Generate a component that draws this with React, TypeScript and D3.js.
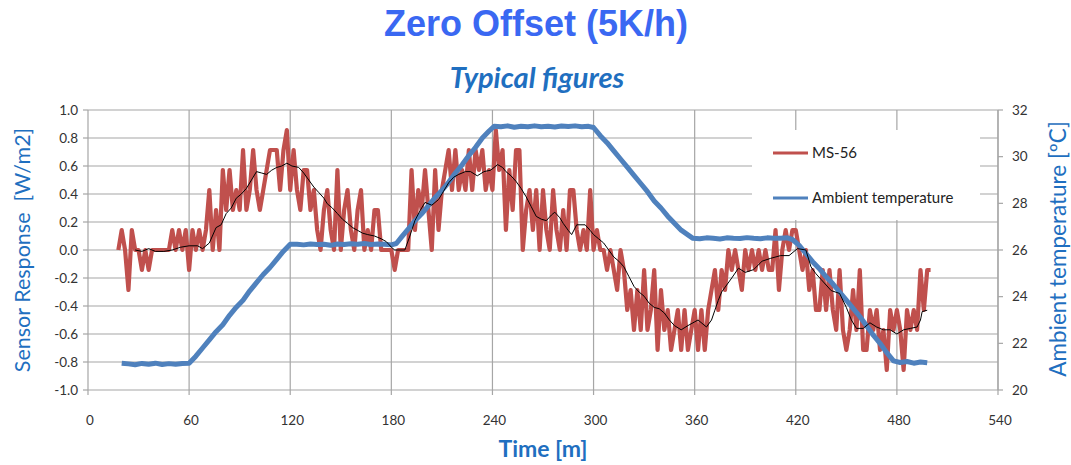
import * as d3 from 'd3'

// sensor output is quantised: one count = 1/7 W/m2
const countWm2 = 1 / 7
const ms56Minutes = d3.range(18, 501, 2)
const ms56Counts = [
  0, 1, 0, -2, 1, 0, 0, -1, 0, -1, 0, 0, 0, 0, 0, 0, 1, 0, 1, 0,
  1, -1, 1, 0, 1, 0, 1, 3, 0, 2, 0, 4, 2, 4, 2, 3, 2, 5, 2, 3,
  5, 3, 2, 3, 4, 5, 5, 5, 3, 5, 6, 3, 5, 3, 2, 4, 4, 2, 3, 1,
  0, 2, 3, 1, 0, 4, 0, 2, 3, 1, 0, 2, 3, 0, 1, 0, 2, 2, 0, 0,
  0, 0, -1, 0, 0, 0, 0, 4, 1, 3, 2, 4, 2, 0, 4, 1, 3, 4, 5, 3,
  5, 3, 4, 3, 5, 3, 5, 4, 5, 3, 4, 3, 6, 4, 5, 1, 4, 2, 5, 5,
  0, 2, 3, 1, 3, 0, 3, 1, 0, 3, 1, 0, 2, 0, 3, 3, 1, 0, 1, 0,
  3, 0, 1, 0, 0, -1, 0, -1, -2, 0, -1, -3, -2, -4, -2, -4, -1, -4, -3, -1,
  -5, -2, -4, -3, -5, -4, -3, -5, -3, -5, -4, -3, -5, -3, -5, -3, -2, -1, -3, -1,
  -2, 0, -1, 0, -1, -2, 0, -1, 0, -1, 0, -1, 0, -1, -1, 1, -2, 0, 1, 0,
  1, 1, 0, -1, 0, -2, -1, -3, -3, -1, -3, -1, -3, -4, -1, -4, -5, -4, -2, -4,
  -1, -5, -5, -3, -4, -3, -5, -4, -6, -3, -4, -3, -4, -6, -3, -4, -3, -4, -1, -3,
  -1, -1,
]

// thin black trend line over MS-56
const trendMinutes = [
  28, 32, 36, 40, 45, 50, 55, 60, 65, 68, 72, 76, 79, 82, 85, 88, 91, 94, 97, 100,
  103, 106, 109, 112, 115, 118, 121, 125, 128, 131, 134, 137, 140, 142, 145, 148, 151, 154, 157, 160,
  163, 166, 170, 174, 177, 180, 182, 188, 191, 194, 197, 200, 204, 208, 211, 214, 217, 220, 224, 227,
  231, 235, 239, 243, 246, 248, 251, 254, 257, 260, 263, 266, 269, 272, 275, 277, 280, 282, 285, 287,
  290, 295, 298, 300, 303, 306, 309, 312, 315, 318, 321, 324, 327, 330, 333, 336, 339, 342, 345, 348,
  352, 356, 359, 362, 365, 367, 370, 372, 374, 376, 379, 382, 386, 390, 395, 400, 405, 411, 416, 421,
  426, 429, 432, 435, 438, 441, 446, 450, 453, 456, 460, 464, 468, 472, 476, 480, 484, 488, 492, 494,
  495, 498,
]
const trendValues = [
  0.0, -0.01, 0.01, -0.01, -0.01, 0.0, 0.02, 0.03, 0.03, 0.01, 0.05, 0.16, 0.18, 0.26, 0.3, 0.37, 0.4, 0.44, 0.5, 0.56,
  0.55, 0.54, 0.57, 0.59, 0.6, 0.62, 0.6, 0.59, 0.55, 0.5, 0.45, 0.41, 0.37, 0.33, 0.3, 0.26, 0.22, 0.19, 0.16, 0.14,
  0.12, 0.11, 0.1, 0.08, 0.06, 0.02, 0.0, 0.0, 0.1, 0.21, 0.28, 0.34, 0.32, 0.36, 0.42, 0.48, 0.52, 0.54, 0.56, 0.56,
  0.53, 0.56, 0.57, 0.61, 0.59, 0.56, 0.53, 0.49, 0.44, 0.38, 0.31, 0.24, 0.22, 0.21, 0.25, 0.27, 0.23, 0.19, 0.14, 0.11,
  0.18, 0.18, 0.14, 0.11, 0.08, 0.05, 0.0, -0.05, -0.08, -0.12, -0.19, -0.26, -0.3, -0.33, -0.38, -0.41, -0.42, -0.45, -0.5, -0.54,
  -0.57, -0.54, -0.52, -0.5, -0.53, -0.55, -0.5, -0.43, -0.36, -0.3, -0.25, -0.2, -0.13, -0.16, -0.14, -0.08, -0.06, -0.04, -0.04, 0.01,
  0.0, -0.12, -0.17, -0.21, -0.25, -0.29, -0.31, -0.41, -0.5, -0.56, -0.56, -0.52, -0.55, -0.57, -0.57, -0.6, -0.57, -0.56, -0.55, -0.5,
  -0.44, -0.43,
]

const ambientMinutes = [
  20, 24, 28, 32, 36, 40, 44, 48, 52, 56, 60,
  64, 68, 72, 76, 80, 84, 88, 92, 96, 100, 104, 108, 112, 116, 120,
  124, 128, 132, 136, 140, 144, 148, 152, 156, 160, 164, 168, 172, 176, 180, 183,
  186, 190, 194, 198, 202, 206, 210, 214, 218, 222, 226, 230, 234, 238, 241,
  245, 249, 253, 257, 261, 265, 269, 273, 277, 281, 285, 289, 293, 297, 300,
  304, 308, 312, 316, 320, 324, 328, 332, 336, 340, 344, 348, 352, 356, 359,
  363, 367, 371, 375, 379, 383, 387, 391, 395, 399, 403, 407, 411, 415, 418,
  422, 426, 430, 434, 438, 442, 446, 450, 454, 458, 462, 466, 470, 474, 478,
  482, 486, 490, 494, 498,
]
const ambientTemps = [
  21.15, 21.12, 21.08, 21.14, 21.1, 21.15, 21.09, 21.13, 21.1, 21.14, 21.15,
  21.45, 21.8, 22.15, 22.5, 22.8, 23.2, 23.55, 23.85, 24.25, 24.6, 24.95, 25.25, 25.6, 25.95, 26.25,
  26.25, 26.22, 26.26, 26.24, 26.25, 26.2, 26.26, 26.24, 26.27, 26.25, 26.28, 26.24, 26.26, 26.25, 26.22, 26.28,
  26.55, 26.9, 27.25, 27.55, 27.9, 28.25, 28.55, 28.9, 29.3, 29.65, 30.05, 30.4, 30.8, 31.1, 31.3,
  31.28, 31.32, 31.26, 31.3, 31.28, 31.32, 31.28, 31.3, 31.27, 31.31, 31.29, 31.32, 31.28, 31.3, 31.25,
  30.9, 30.6, 30.25, 29.9, 29.55, 29.2, 28.85, 28.5, 28.1, 27.8, 27.45, 27.15, 26.85, 26.65, 26.5,
  26.48, 26.52, 26.5, 26.47, 26.52, 26.5, 26.49, 26.53, 26.5, 26.48, 26.52, 26.5, 26.5, 26.52, 26.45,
  26.2, 25.85, 25.5, 25.2, 24.85, 24.55, 24.2, 23.85, 23.5, 23.15, 22.75, 22.35, 22.0, 21.6, 21.25,
  21.18, 21.22, 21.15, 21.2, 21.17,
]

const timeTicks = [0, 60, 120, 180, 240, 300, 360, 420, 480, 540]
const sensorTickLabels = ['-1.0', '-0.8', '-0.6', '-0.4', '-0.2', '0.0', '0.2', '0.4', '0.6', '0.8', '1.0']
const tempTicks = [20, 22, 24, 26, 28, 30, 32]

const W = 1071
const H = 465
const plot = { left: 88, right: 998, top: 110, bottom: 390 }
const gridColor = '#a6a6a6'
const titleBlue = '#1f6fc0'
const tickFont = 'Lato, "Open Sans", sans-serif'

const App = () => {
  const x = d3.scaleLinear().domain([0, 540]).range([plot.left, plot.right])
  const yS = d3.scaleLinear().domain([-1, 1]).range([plot.bottom, plot.top])
  const yT = d3.scaleLinear().domain([20, 32]).range([plot.bottom, plot.top])

  const redLine = d3.line<number>().x((d, i) => x(ms56Minutes[i])).y(d => yS(d * countWm2))
  const trendLine = d3.line<number>().x((d, i) => x(trendMinutes[i])).y(d => yS(d))
  const blueLine = d3.line<number>().x((d, i) => x(ambientMinutes[i])).y(d => yT(d))

  const sensorTicks = sensorTickLabels.map(s => parseFloat(s))

  return (
    <div style={{ position: 'absolute', left: 0, top: 0 }}>
      <svg width={W} height={H} style={{ display: 'block', background: '#fff' }}>
        <text x={536} y={36} textAnchor="middle" fontFamily='"Liberation Sans", Arial, sans-serif'
          fontWeight="bold" fontSize={36} fill="#3a68f2">Zero Offset (5K/h)</text>
        <text x={537} y={88} textAnchor="middle" fontFamily={tickFont} fontWeight="bold"
          fontStyle="italic" fontSize={29} fill={titleBlue}>Typical figures</text>

        {/* grid */}
        {sensorTicks.map(v => (
          <line key={`h${v}`} x1={plot.left} x2={plot.right} y1={yS(v)} y2={yS(v)} stroke={gridColor} strokeWidth={1.2} />
        ))}
        {timeTicks.map(t => (
          <line key={`v${t}`} x1={x(t)} x2={x(t)} y1={plot.top} y2={plot.bottom + 5} stroke={gridColor} strokeWidth={1.2} />
        ))}
        {sensorTicks.map(v => (
          <line key={`lt${v}`} x1={plot.left - 5} x2={plot.left} y1={yS(v)} y2={yS(v)} stroke={gridColor} strokeWidth={1.2} />
        ))}
        <line x1={plot.right} x2={plot.right} y1={plot.top} y2={plot.bottom} stroke={gridColor} strokeWidth={1.2} />
        {tempTicks.map(v => (
          <line key={`rt${v}`} x1={plot.right} x2={plot.right + 5} y1={yT(v)} y2={yT(v)} stroke={gridColor} strokeWidth={1.2} />
        ))}

        {/* legend background hides the grid */}
        <rect x={752} y={130} width={228} height={90} fill="#fff" />

        <path d={redLine(ms56Counts) ?? ''} fill="none" stroke="#c0504d" strokeWidth={4.2} strokeLinejoin="round" />
        <path d={blueLine(ambientTemps) ?? ''} fill="none" stroke="#4f81bd" strokeWidth={5} strokeLinejoin="round" />
        <path d={trendLine(trendValues) ?? ''} fill="none" stroke="#000" strokeWidth={1} />

        {/* tick labels */}
        {sensorTickLabels.map(s => (
          <text key={`ls${s}`} x={plot.left - 10} y={yS(parseFloat(s))} dy="0.35em" textAnchor="end"
            fontFamily={tickFont} fontSize={13.5} fill="#333">{s}</text>
        ))}
        {tempTicks.map(v => (
          <text key={`rs${v}`} x={plot.right + 14} y={yT(v)} dy="0.35em" textAnchor="start"
            fontFamily={tickFont} fontSize={13.5} fill="#333">{v}</text>
        ))}
        {timeTicks.map(t => (
          <text key={`xs${t}`} x={x(t) + 2} y={425} textAnchor="middle"
            fontFamily={tickFont} fontSize={13.5} fill="#333">{t}</text>
        ))}

        {/* axis titles */}
        <text x={543} y={457} textAnchor="middle" fontFamily={tickFont} fontWeight="bold" fontSize={23} fill={titleBlue}>Time [m]</text>
        <text transform="translate(30,250) rotate(-90)" textAnchor="middle" fontFamily={tickFont} fontSize={21.5}
          fill={titleBlue} style={{ whiteSpace: 'pre' }}>Sensor Response  [W/m2]</text>
        <text transform="translate(1066,249) rotate(-90)" textAnchor="middle" fontFamily={tickFont} fontSize={22.5}
          fill={titleBlue}>Ambient temperature [ºC]</text>

        {/* legend */}
        <line x1={773} x2={808} y1={153} y2={153} stroke="#c0504d" strokeWidth={3} />
        <text x={812} y={153} dy="0.35em" fontFamily={tickFont} fontSize={15} fill="#222">MS-56</text>
        <line x1={773} x2={808} y1={198} y2={198} stroke="#4f81bd" strokeWidth={3} />
        <text x={812} y={198} dy="0.35em" fontFamily={tickFont} fontSize={15} fill="#222">Ambient temperature</text>
      </svg>
    </div>
  )
}

export default App
